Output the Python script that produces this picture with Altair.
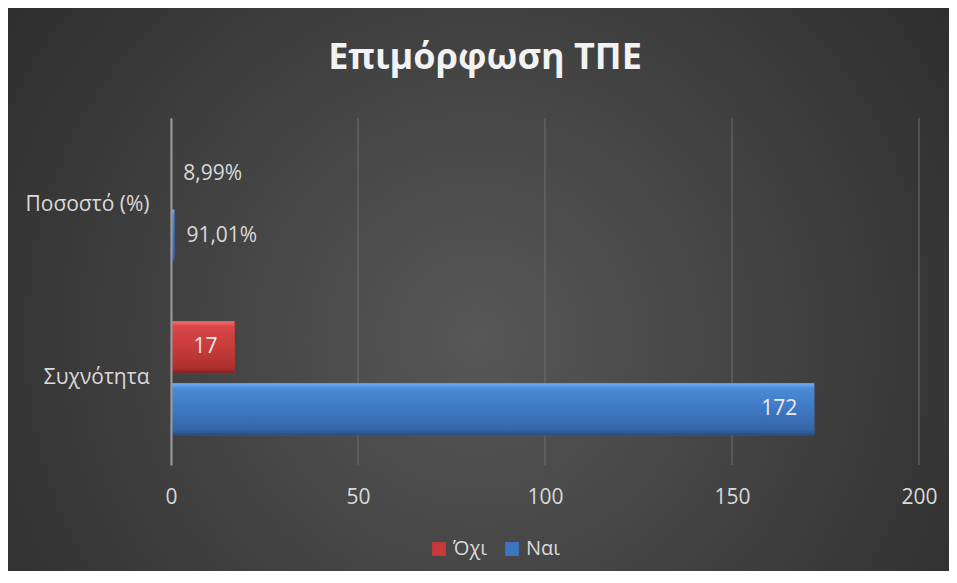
import altair as alt
import pandas as pd

# ---- data ----
categories = ["Ποσοστό (%)", "Συχνότητα"]
series = ["Όχι", "Ναι"]
ochi_values = [0.0899, 17]
nai_values = [0.9101, 172]
ochi_labels = ["8,99%", "17"]
nai_labels = ["91,01%", "172"]
x_ticks = [0, 50, 100, 150, 200]
title_text = "Επιμόρφωση ΤΠΕ"

rows = []
for i, c in enumerate(categories):
    rows.append({"cat": c, "series": series[0], "value": ochi_values[i], "label": ochi_labels[i]})
    rows.append({"cat": c, "series": series[1], "value": nai_values[i], "label": nai_labels[i]})
df = pd.DataFrame(rows)
ticks_df = pd.DataFrame({"tick": x_ticks})

W, H = 748, 347
PL, PT, PR, PB = 163, 110, 30, 106
FONT = "Open Sans"
TXT = "#d9d9d9"

RED = "#c63a3a"
BLUE = "#3d76c0"

y_enc = alt.Y(
    "cat:N", sort=categories,
    scale=alt.Scale(paddingInner=0.343, paddingOuter=0.1715),
    axis=alt.Axis(title=None, ticks=False, tickSize=0, labelPadding=22, labelFontSize=21,
                  labelFont=FONT, labelColor=TXT, domain=True, domainColor="#9a9a9a",
                  domainWidth=2, grid=False, zindex=1, labelLimit=300),
)
yoff_enc = alt.YOffset("series:N", sort=series, scale=alt.Scale(paddingInner=0.16, paddingOuter=0))


def x_enc(field):
    return alt.X(
        f"{field}:Q",
        scale=alt.Scale(domain=[0, 200], nice=False, zero=True),
        axis=alt.Axis(title=None, values=x_ticks, domain=False, ticks=False, tickSize=0, grid=False,
                      labelFlush=False, labelPadding=21, labelFontSize=21, labelFont=FONT,
                      labelColor=TXT, zindex=1),
    )


bg_grad = alt.RadialGradient(
    gradient="radial", x1=0.5, y1=0.55, r1=0, x2=0.5, y2=0.55, r2=0.72,
    stops=[alt.GradientStop(offset=0, color="#575757"), alt.GradientStop(offset=1, color="#272727")],
)

background = alt.Chart(alt.Data(values=[{}])).mark_rect(fill=bg_grad, clip=False).encode(
    x=alt.value(-PL), x2=alt.value(W + PR), y=alt.value(-PT), y2=alt.value(H + PB)
)

grid = alt.Chart(ticks_df).mark_rule(color="#6e6e6e", strokeWidth=1).encode(
    x=x_enc("tick"), y=alt.value(0), y2=alt.value(H)
)

bars_flat = alt.Chart(df).mark_bar().encode(
    y=y_enc, yOffset=yoff_enc, x=x_enc("value"),
    color=alt.Color(
        "series:N", sort=series,
        scale=alt.Scale(domain=series, range=[RED, BLUE]),
        legend=alt.Legend(
            title=None, orient="none", legendX=258, legendY=421, direction="horizontal",
            symbolType="square", symbolSize=190, symbolStrokeWidth=0,
            labelFontSize=20, labelFont=FONT, labelColor=TXT, columnPadding=14, labelOffset=4,
        ),
    ),
)


def lin(stops):
    return alt.LinearGradient(
        gradient="linear", x1=0, y1=0, x2=0, y2=1,
        stops=[alt.GradientStop(offset=o, color=c) for o, c in stops],
    )


red_grad = lin([(0, "#f07070"), (0.1, "#d84646"), (0.5, "#c93b3b"), (0.9, "#ad3030"), (1, "#7e2222")])
blue_grad = lin([(0, "#6fb0f2"), (0.1, "#4c8ad6"), (0.5, "#3e78c2"), (0.9, "#3565a6"), (1, "#244d80")])

bars_red = alt.Chart(df).transform_filter(alt.datum.series == series[0]).mark_bar(fill=red_grad).encode(
    y=y_enc, yOffset=yoff_enc, x=x_enc("value")
)
bars_blue = alt.Chart(df).transform_filter(alt.datum.series == series[1]).mark_bar(fill=blue_grad).encode(
    y=y_enc, yOffset=yoff_enc, x=x_enc("value")
)

text_out = alt.Chart(df).transform_filter(alt.datum.cat == categories[0]).mark_text(
    align="left", baseline="middle", dx=12, font=FONT, fontSize=21, color=TXT
).encode(y=y_enc, yOffset=yoff_enc, x=x_enc("value"), text="label:N")

text_in = alt.Chart(df).transform_filter(alt.datum.cat == categories[1]).mark_text(
    align="right", baseline="middle", dx=-17, font=FONT, fontSize=21, color="#ececec"
).encode(y=y_enc, yOffset=yoff_enc, x=x_enc("value"), text="label:N")

title = alt.Chart(alt.Data(values=[{"t": title_text}])).mark_text(
    align="center", baseline="alphabetic", font=FONT, fontSize=36, fontWeight="bold", color="#f2f2f2"
).encode(x=alt.value(314), y=alt.value(-49), text="t:N")

chart = alt.layer(
    background, grid, bars_flat, bars_red, bars_blue, text_out, text_in, title
).properties(
    width=W, height=H,
    autosize=alt.AutoSizeParams(type="none"),
    padding={"left": PL, "top": PT, "right": PR, "bottom": PB},
    background="#272727",
).configure_view(stroke=None)

chart.save("out.html", embed_options={"renderer": "svg", "actions": False})
